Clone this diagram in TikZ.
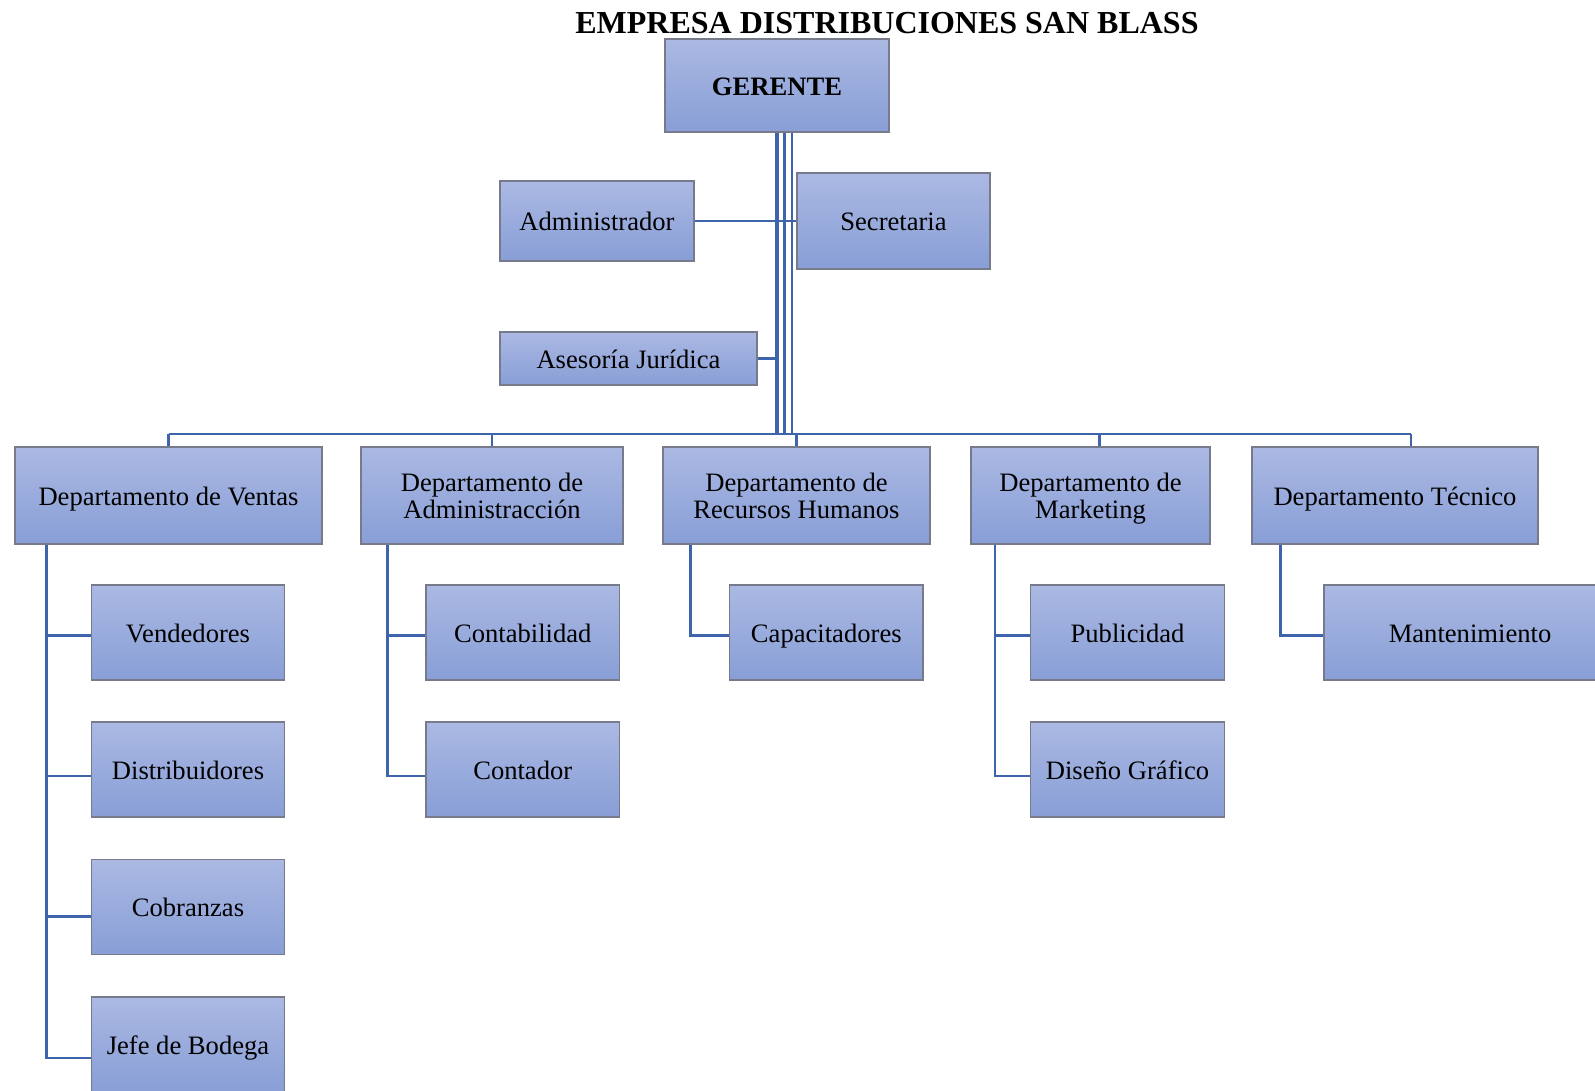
\documentclass[tikz,border=0pt]{standalone}
\usepackage{fontspec}
\setmainfont{Liberation Serif}
\usetikzlibrary{calc}
\definecolor{boxtop}{RGB}{171,185,227}
\definecolor{boxbot}{RGB}{136,158,214}
\definecolor{boxedge}{RGB}{118,122,138}
\definecolor{linkblue}{RGB}{62,101,172}
% line strut: fixed ascent/descent so every label sits like a text line
\newcommand\lst{\rule[-3.2pt]{0pt}{16pt}}
\newcommand\unitfont{\fontsize{13.3pt}{13.8pt}\selectfont\lineskiplimit=-100pt\relax\lineskip=0pt\relax}
\tikzset{
  box/.style={draw=boxedge, line width=0.6pt, top color=boxtop, bottom color=boxbot},
  unit/.style={box, inner sep=0pt, align=center, font=\unitfont},
  link/.style={draw=linkblue, line width=1.25pt},
}
\begin{document}
\begin{tikzpicture}[x=0.5pt, y=-0.5pt]
\clip (0,0) rectangle (1595,1091);
\fill[white] (0,0) rectangle (1595,1091);

% title
\node[font=\fontsize{16pt}{18pt}\selectfont\bfseries, anchor=base] (title) at (887,34) {EMPRESA DISTRIBUCIONES SAN BLASS};

% top level
\node[unit, minimum width=112pt, minimum height=46.5pt, font=\unitfont\bfseries] (ger) at (777,85.5) {\lst GERENTE};
\node[unit, minimum width=97pt, minimum height=40pt] (adm) at (597,221) {\lst Administrador};
\node[unit, minimum width=96.5pt, minimum height=48pt] (sec) at (893.5,221) {\lst Secretaria};
\node[unit, minimum width=128.5pt, minimum height=26.5pt] (ase) at (628.5,358.5) {\lst Asesoría Jurídica};

% departments
\node[unit, minimum width=153.5pt, minimum height=48.5pt] (dv) at (168.5,495.5) {\lst Departamento de Ventas};
\node[unit, minimum width=131pt, minimum height=48.5pt] (da) at (492,495.5) {\lst Departamento de\\\lst Administracción};
\node[unit, minimum width=133.5pt, minimum height=48.5pt] (dr) at (796.5,495.5) {\lst Departamento de\\\lst Recursos Humanos};
\node[unit, minimum width=119.5pt, minimum height=48.5pt] (dm) at (1090.5,495.5) {\lst Departamento de\\\lst Marketing};
\node[unit, minimum width=143pt, minimum height=48.5pt] (dt) at (1395,495.5) {\lst Departamento Técnico};

% sections
\tikzset{child/.style={unit, minimum width=96.75pt, minimum height=47.5pt}}
\node[child] (ven) at (188,632.5) {\lst Vendedores};
\node[child] (dis) at (188,769.5) {\lst Distribuidores};
\node[child] (cob) at (188,907) {\lst Cobranzas};
\node[child] (jef) at (188,1044.5) {\lst Jefe de Bodega};
\node[child] (con) at (522.75,632.5) {\lst Contabilidad};
\node[child] (ctd) at (522.75,769.5) {\lst Contador};
\node[child] (cap) at (826.3,632.5) {\lst Capacitadores};
\node[child] (pub) at (1127.5,632.5) {\lst Publicidad};
\node[child] (dis2) at (1127.5,769.5) {\lst Diseño Gráfico};
\node[child, minimum width=146pt] (man) at (1470,632.5) {\lst Mantenimiento};

% bus and guide coordinates
\coordinate (bus) at (0,434);
\coordinate (gm) at (777,0);
\coordinate (g2) at (784.3,0);
\coordinate (g3) at (792,0);
\coordinate (xm) at (1099.6,0);
\coordinate (xt) at (1411,0);
\coordinate (tv) at (46.7,0);
\coordinate (ta) at (387.5,0);
\coordinate (tr) at (690.7,0);
\coordinate (tm) at (994.8,0);
\coordinate (tt) at (1280.7,0);
\coordinate (r1) at (0,635.7);
\coordinate (r2) at (0,776);
\coordinate (r3) at (0,916.5);
\coordinate (r4) at (0,1058);

% manager trunk
\draw[link, line width=1.7pt] (ger.south) -- (gm |- bus);
\draw[link] (g2 |- ger.south) -- (g2 |- bus);
\draw[link] (g3 |- ger.south) -- (g3 |- bus);
\draw[link] (adm.east) -- (sec.west);
\draw[link] (ase.east) -- (gm |- ase.east);

% department bus
\draw[link] (dv.north |- bus) -- (xt |- bus);
\draw[link] (dv.north |- bus) -- (dv.north);
\draw[link] (da.north |- bus) -- (da.north);
\draw[link] (dr.north |- bus) -- (dr.north);
\draw[link] (xm |- bus) -- (xm |- dm.north);
\draw[link] (xt |- bus) -- (xt |- dt.north);

% section links
\draw[link] (tv |- dv.south) |- (jef.west |- r4);
\draw[link] (tv |- r1) -- (ven.west |- r1);
\draw[link] (tv |- r2) -- (dis.west |- r2);
\draw[link] (tv |- r3) -- (cob.west |- r3);
\draw[link] (ta |- da.south) |- (ctd.west |- r2);
\draw[link] (ta |- r1) -- (con.west |- r1);
\draw[link] (tr |- dr.south) |- (cap.west |- r1);
\draw[link] (tm |- dm.south) |- (dis2.west |- r2);
\draw[link] (tm |- r1) -- (pub.west |- r1);
\draw[link] (tt |- dt.south) |- (man.west |- r1);
\end{tikzpicture}
\end{document}
